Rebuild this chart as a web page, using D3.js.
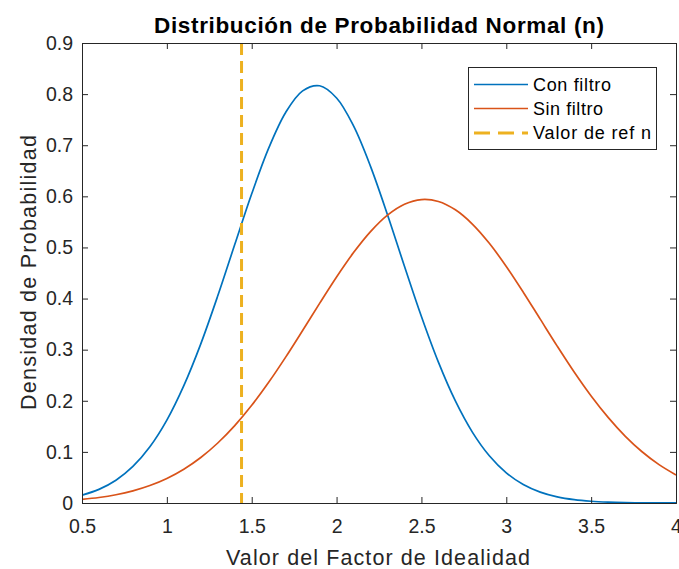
<!DOCTYPE html>
<html>
<head>
<meta charset="utf-8">
<script src="https://cdn.jsdelivr.net/npm/d3@7"></script>
<style>
html,body{margin:0;padding:0;background:#fff;}
svg{display:block;font-family:"Liberation Sans",Arial,Helvetica,sans-serif;}
</style>
</head>
<body>
<svg id="chart" width="679" height="569"></svg>
<script>
// Data
const xValues = [0.5,0.6,0.7,0.8,0.9,1.0,1.1,1.2,1.3,1.4,1.5,1.6,1.7,1.8,1.9,2.0,2.1,2.2,2.3,2.4,2.5,2.6,2.7,2.8,2.9,3.0,3.1,3.2,3.3,3.4,3.5,3.6,3.7,3.8,3.9,4.0];
const conFiltro = [0.0153,0.0267,0.0446,0.0716,0.1101,0.1623,0.2297,0.3114,0.4053,0.5057,0.6050,0.6943,0.7641,0.8064,0.8163,0.7924,0.7377,0.6587,0.5640,0.4632,0.3648,0.2755,0.1996,0.1387,0.0924,0.0590,0.0362,0.0213,0.0120,0.0065,0.0034,0.0017,0.0008,0.0004,0.0002,0.0001];
const sinFiltro = [0.0070,0.0107,0.0161,0.0237,0.0341,0.0480,0.0661,0.0890,0.1174,0.1514,0.1911,0.2361,0.2854,0.3375,0.3905,0.4422,0.4899,0.5310,0.5633,0.5846,0.5937,0.5900,0.5736,0.5458,0.5081,0.4628,0.4125,0.3597,0.3070,0.2563,0.2094,0.1675,0.1310,0.1003,0.0751,0.0550];
const refValue = 1.44;
const seriesNames = ["Con filtro","Sin filtro","Valor de ref n"];
const xTicks = [0.5,1,1.5,2,2.5,3,3.5,4];
const yTicks = [0,0.1,0.2,0.3,0.4,0.5,0.6,0.7,0.8,0.9];
const titleText = "Distribución de Probabilidad Normal (n)";
const xLabel = "Valor del Factor de Idealidad";
const yLabel = "Densidad de Probabilidad";

const svg = d3.select("#chart");
const L = 82, R = 676, T = 43, B = 503;
const axisColor = "#262626";
const colors = ["#0072BD","#D95319","#EDB120"];

const x = d3.scaleLinear().domain([0.5,4]).range([L,R]);
const y = d3.scaleLinear().domain([0,0.9]).range([B,T]);

svg.append("clipPath").attr("id","clip").append("rect")
  .attr("x",L).attr("y",T).attr("width",R-L).attr("height",B-T);

const plot = svg.append("g").attr("clip-path","url(#clip)");
const line = d3.line().x(d=>x(d[0])).y(d=>y(d[1])).curve(d3.curveCatmullRom.alpha(0.5));

plot.append("path").datum(xValues.map((v,i)=>[v,conFiltro[i]]))
  .attr("d",line).attr("fill","none").attr("stroke",colors[0]).attr("stroke-width",1.7);
plot.append("path").datum(xValues.map((v,i)=>[v,sinFiltro[i]]))
  .attr("d",line).attr("fill","none").attr("stroke",colors[1]).attr("stroke-width",1.7);
plot.append("line")
  .attr("x1",x(refValue)).attr("x2",x(refValue)).attr("y1",y(0.9)).attr("y2",y(0))
  .attr("stroke",colors[2]).attr("stroke-width",3).attr("stroke-dasharray","12,6");

// Axes
const tickLen = 6;
const axB = svg.append("g").attr("transform",`translate(0,${B})`)
  .call(d3.axisBottom(x).tickValues(xTicks).tickSize(-tickLen).tickPadding(16).tickFormat(d3.format("")));
const axT = svg.append("g").attr("transform",`translate(0,${T})`)
  .call(d3.axisTop(x).tickValues(xTicks).tickSize(-tickLen).tickFormat(""));
const axLft = svg.append("g").attr("transform",`translate(${L},0)`)
  .call(d3.axisLeft(y).tickValues(yTicks).tickSize(-tickLen).tickPadding(9).tickFormat(d3.format("")));
const axRt = svg.append("g").attr("transform",`translate(${R},0)`)
  .call(d3.axisRight(y).tickValues(yTicks).tickSize(-tickLen).tickFormat(""));
[axB,axT,axLft,axRt].forEach(a=>{
  a.select(".domain").attr("stroke",axisColor).attr("stroke-width",1);
  a.selectAll(".tick line").attr("stroke",axisColor).attr("stroke-width",1);
  a.selectAll(".tick text").attr("fill",axisColor).attr("font-size",19.5)
    .attr("font-family","Liberation Sans, Arial, sans-serif");
});
axB.selectAll(".tick text").attr("dy","0.71em");

// Labels
svg.append("text").attr("x",379).attr("y",33).attr("text-anchor","middle")
  .attr("font-size",22.5).attr("font-weight","bold").attr("fill","#000")
  .attr("textLength",450).attr("lengthAdjust","spacing").text(titleText);
svg.append("text").attr("x",378).attr("y",565).attr("text-anchor","middle")
  .attr("font-size",21.5).attr("fill",axisColor)
  .attr("textLength",304).attr("lengthAdjust","spacing").text(xLabel);
svg.append("text").attr("transform",`translate(36,272.5) rotate(-90)`).attr("text-anchor","middle")
  .attr("font-size",21.5).attr("fill",axisColor)
  .attr("textLength",275).attr("lengthAdjust","spacing").text(yLabel);

// Legend
const lg = svg.append("g");
lg.append("rect").attr("x",468.5).attr("y",67.5).attr("width",188).attr("height",82)
  .attr("fill","#fff").attr("stroke",axisColor).attr("stroke-width",1);
const rowsY = [84.5,108.5,133];
const legendLens = [78,70,118];
seriesNames.forEach((n,i)=>{
  const ln = lg.append("line").attr("x1",474).attr("x2",528).attr("y1",rowsY[i]).attr("y2",rowsY[i])
    .attr("stroke",colors[i]).attr("stroke-width",i===2?3:1.7);
  if(i===2) ln.attr("stroke-dasharray","16,8");
  lg.append("text").attr("x",533).attr("y",rowsY[i]).attr("dy","0.36em")
    .attr("font-size",18).attr("fill","#000")
    .attr("textLength",legendLens[i]).attr("lengthAdjust","spacing").text(n);
});
</script>
</body>
</html>
